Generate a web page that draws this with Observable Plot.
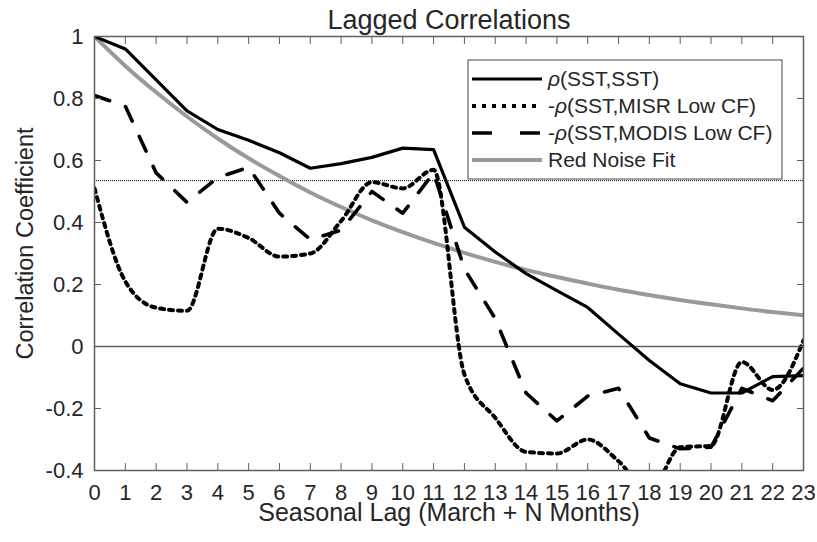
<!DOCTYPE html>
<html><head><meta charset="utf-8">
<script src="https://cdn.jsdelivr.net/npm/d3@7"></script>
<script src="https://cdn.jsdelivr.net/npm/@observablehq/plot@0.6"></script>
<style>body{margin:0;background:#fff} #chart{width:817px;height:542px}</style>
</head><body><div id="chart"></div>
<script>
const lags = [0,1,2,3,4,5,6,7,8,9,10,11,12,13,14,15,16,17,18,19,20,21,22,23];
const sst = [1.00,0.96,0.86,0.76,0.70,0.665,0.625,0.575,0.59,0.61,0.64,0.635,0.385,0.305,0.235,0.18,0.126,0.04,-0.045,-0.12,-0.15,-0.15,-0.097,-0.094];
const misr = [0.51,0.21,0.125,0.115,0.38,0.35,0.29,0.30,0.405,0.53,0.51,0.57,-0.09,-0.23,-0.34,-0.345,-0.30,-0.37,-0.47,-0.325,-0.32,-0.05,-0.14,0.02];
const modis = [0.81,0.775,0.56,0.465,0.545,0.578,0.43,0.345,0.375,0.50,0.43,0.56,0.25,0.09,-0.15,-0.24,-0.16,-0.135,-0.295,-0.33,-0.325,-0.135,-0.175,-0.07];
const redNoise = [1.00,0.905,0.82,0.742,0.671,0.607,0.55,0.497,0.45,0.407,0.369,0.334,0.302,0.273,0.247,0.224,0.203,0.183,0.166,0.15,0.136,0.123,0.111,0.101];
const significance = [0.535];
const xTicks = [0,1,2,3,4,5,6,7,8,9,10,11,12,13,14,15,16,17,18,19,20,21,22,23];
const yTicks = [-0.4,-0.2,0,0.2,0.4,0.6,0.8,1];
const seriesNames = ["ρ(SST,SST)", "-ρ(SST,MISR Low CF)", "-ρ(SST,MODIS Low CF)", "Red Noise Fit"];
const titleText = "Lagged Correlations";
const xLabel = "Seasonal Lag (March + N Months)";
const yLabel = "Correlation Coefficient";

const rows = (vals) => lags.map((l, i) => ({lag: l, r: vals[i]}));
const FONT = '"Liberation Sans", Arial, Helvetica, sans-serif';
const TXT = "#262626";
const AX = "#5f5f5f";
const fmt = d => String(Math.round(d * 10) / 10);
const none = () => "";

const styles = [
  {stroke: "#000", strokeWidth: 3.2, dash: null, legendDash: null, curve: "linear"},
  {stroke: "#000", strokeWidth: 4, dash: "4,5", legendDash: "4,6", curve: "monotone-x"},
  {stroke: "#000", strokeWidth: 3.6, dash: "16,17", legendDash: "20,28", curve: "linear"},
  {stroke: "#999", strokeWidth: 4, dash: null, legendDash: null, curve: "natural"}
];
const seriesData = [sst, misr, modis, redNoise];
const drawOrder = [3, 1, 2, 0];

const plot = Plot.plot({
  width: 817, height: 542,
  marginLeft: 94, marginRight: 14, marginTop: 36, marginBottom: 72,
  style: {fontFamily: FONT, color: TXT, background: "#fff"},
  x: {domain: [0, 23]},
  y: {domain: [-0.4, 1]},
  marks: [
    Plot.ruleY([0], {stroke: AX, strokeWidth: 1.3}),
    Plot.ruleY(significance, {stroke: "#000", strokeWidth: 1, strokeDasharray: "1,1"}),
    ...drawOrder.map(k => Plot.line(rows(seriesData[k]), {
      x: "lag", y: "r", stroke: styles[k].stroke, strokeWidth: styles[k].strokeWidth,
      strokeDasharray: styles[k].dash, curve: styles[k].curve, clip: true
    })),
    Plot.frame({stroke: AX, strokeWidth: 1.5}),
    Plot.axisX(xTicks, {anchor: "bottom", tickSize: 0, tickPadding: 14, tickFormat: fmt, fontSize: 22, fill: TXT, label: null}),
    Plot.axisX(xTicks, {anchor: "bottom", tickSize: -7, tickFormat: none, stroke: AX, label: null}),
    Plot.axisX(xTicks, {anchor: "top", tickSize: -7, tickFormat: none, stroke: AX, label: null}),
    Plot.axisY(yTicks, {anchor: "left", tickSize: 0, tickPadding: 11, tickFormat: fmt, fontSize: 22, fill: TXT, label: null}),
    Plot.axisY(yTicks, {anchor: "left", tickSize: -7, tickFormat: none, stroke: AX, label: null}),
    Plot.axisY(yTicks, {anchor: "right", tickSize: -7, tickFormat: none, stroke: AX, label: null}),
    Plot.text([titleText], {frameAnchor: "top", textAnchor: "middle", lineAnchor: "bottom", dy: -8, fontSize: 27, fill: TXT}),
    Plot.text([xLabel], {frameAnchor: "bottom", textAnchor: "middle", lineAnchor: "bottom", dy: 50, fontSize: 25, fill: TXT}),
    Plot.text([yLabel], {frameAnchor: "left", textAnchor: "middle", lineAnchor: "bottom", rotate: -90, dx: -62, dy: -10, fontSize: 23.5, fill: TXT})
  ]
});
document.getElementById("chart").appendChild(plot);

// Legend
const svg = d3.select(plot);
const lg = svg.append("g").attr("font-family", FONT).attr("font-size", 21).attr("fill", TXT).attr("text-anchor", "start");
lg.append("rect").attr("x", 468).attr("y", 60).attr("width", 314).attr("height", 119)
  .attr("fill", "#fff").attr("stroke", "#444").attr("stroke-width", 1);
seriesNames.forEach((name, i) => {
  const y = 79 + i * 27;
  lg.append("line").attr("x1", 472).attr("x2", 542).attr("y1", y).attr("y2", y)
    .attr("stroke", styles[i].stroke).attr("stroke-width", styles[i].strokeWidth)
    .attr("stroke-dasharray", styles[i].legendDash);
  const t = lg.append("text").attr("x", 548).attr("y", y).attr("dy", "0.35em");
  const parts = name.split("ρ");
  if (parts.length > 1) {
    t.append("tspan").text(parts[0]);
    t.append("tspan").attr("font-style", "italic").text("ρ");
    t.append("tspan").text(parts[1]);
  } else {
    t.text(name);
  }
});
</script>
</body></html>
